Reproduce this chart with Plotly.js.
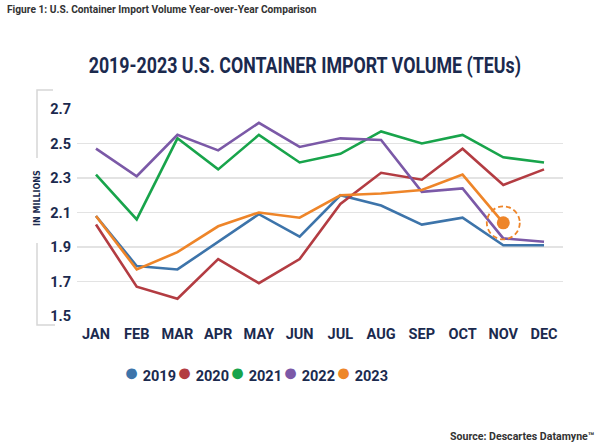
<!DOCTYPE html>
<html>
<head>
<meta charset="utf-8">
<script src="https://cdn.plot.ly/plotly-3.0.1.min.js"></script>
<style>html,body{margin:0;padding:0;background:#fff}#chart{width:600px;height:448px}</style>
</head>
<body>
<div id="chart"></div>
<script>
// ---- data ----
const months = ['JAN','FEB','MAR','APR','MAY','JUN','JUL','AUG','SEP','OCT','NOV','DEC'];
const years = ['2019','2020','2021','2022','2023'];
const v2019 = [2.08,1.79,1.77,1.93,2.09,1.96,2.20,2.14,2.03,2.07,1.91,1.91];
const v2020 = [2.03,1.67,1.60,1.83,1.69,1.83,2.15,2.33,2.29,2.47,2.26,2.35];
const v2021 = [2.32,2.06,2.53,2.35,2.55,2.39,2.44,2.57,2.50,2.55,2.42,2.39];
const v2022 = [2.47,2.31,2.55,2.46,2.62,2.48,2.53,2.52,2.22,2.24,1.95,1.93];
const v2023 = [2.08,1.77,1.87,2.02,2.10,2.07,2.20,2.21,2.23,2.32,2.04,null];
const yTicks = [1.5,1.7,1.9,2.1,2.3,2.5,2.7];
const yTickText = yTicks.map(v => v.toFixed(1));

// ---- style ----
const series = [v2019,v2020,v2021,v2022,v2023];
const colors = ['#3d74aa','#b33c42','#18a44b','#7b59a7','#ee8529'];
const NAVY = '#1b2a4e';
const FONT = 'Roboto,"Liberation Sans",sans-serif';

const W = 600, H = 448;
const M = {l:77, r:37, t:109, b:132};
const pw = W - M.l - M.r, ph = H - M.t - M.b;
const px = x => (x - M.l) / pw;
const py = y => (H - M.b - y) / ph;

const traces = [];
series.forEach((v, i) => traces.push({
  type:'scatter', mode:'lines', x:months, y:v, name:years[i],
  line:{color:colors[i], width:2.6}, showlegend:false, cliponaxis:false, hoverinfo:'skip'
}));

// highlighted latest 2023 point
let hiIdx = -1;
v2023.forEach((v, i) => { if (v !== null) hiIdx = i; });
traces.push({
  type:'scatter', mode:'markers', x:[months[hiIdx]], y:[v2023[hiIdx]],
  marker:{color:colors[4], size:13}, showlegend:false, cliponaxis:false, hoverinfo:'skip'
});

// legend entries (coloured dot + year)
years.forEach((y, i) => {
  const t = {
    type:'scatter', mode:'markers', x:[null], y:[null],
    name:'<span style="color:' + colors[i] + ';font-size:25px">●</span> ' + y,
    marker:{color:'rgba(0,0,0,0)', size:0.1, line:{width:0}}, showlegend:true, hoverinfo:'skip'
  };
  if (i === years.length - 1) t.legendwidth = 60;
  traces.push(t);
});

const tickFont = {family:FONT, size:14.5, color:NAVY, weight:'bold'};

const layout = {
  width:W, height:H, margin:M,
  paper_bgcolor:'#ffffff', plot_bgcolor:'#ffffff',
  title:{
    text:'2019-2023 U.S. CONTAINER IMPORT VOLUME (TEUs)',
    font:{family:FONT, size:22, color:NAVY, weight:'bold'},
    x:0.508, xanchor:'center', xref:'container',
    y:1 - 65/H, yanchor:'middle', yref:'container'
  },
  xaxis:{
    type:'category', range:[-0.466, 11.466],
    showgrid:false, zeroline:false, showline:false, ticks:'',
    tickfont:tickFont, ticklabelstandoff:7, fixedrange:true
  },
  yaxis:{
    range:[1.5, 2.7], tickvals:yTicks, ticktext:yTickText,
    showgrid:true, gridcolor:'#e3e3e3', gridwidth:1.5,
    zeroline:false, showline:false, ticks:'',
    tickfont:tickFont, ticklabelstandoff:5, fixedrange:true
  },
  legend:{
    orientation:'h', xref:'paper', yref:'paper',
    x:px(84), xanchor:'left', y:py(375), yanchor:'middle',
    font:{family:FONT, size:14.5, color:NAVY, weight:'bold'},
    entrywidth:8, entrywidthmode:'pixels', bgcolor:'#ffffff', borderwidth:0
  },
  shapes:[
    {type:'path', xref:'paper', yref:'paper', layer:'below',
     path:'M' + px(53) + ',' + py(90) + ' L' + px(37) + ',' + py(90) + ' L' + px(37) + ',' + py(158) +
          ' M' + px(37) + ',' + py(243) + ' L' + px(37) + ',' + py(325) + ' L' + px(55) + ',' + py(325),
     line:{color:'#d6d6d6', width:1.5}},
    {type:'circle', xref:'x', yref:'y', xsizemode:'pixel', ysizemode:'pixel',
     xanchor:months[hiIdx], yanchor:v2023[hiIdx], x0:-16.5, x1:16.5, y0:-16.5, y1:16.5,
     line:{color:colors[4], width:1.8, dash:'5px,3px'}}
  ],
  annotations:[
    {text:'IN MILLIONS', xref:'paper', yref:'paper', x:px(37), y:py(198),
     xanchor:'center', yanchor:'middle', textangle:-90, showarrow:false,
     font:{family:'"DejaVu Sans",sans-serif', size:8, color:NAVY, weight:'bold'}},
    {text:'Figure 1: U.S. Container Import Volume Year-over-Year Comparison',
     xref:'paper', yref:'paper', x:px(5), y:py(9), xanchor:'left', yanchor:'middle', showarrow:false,
     font:{family:FONT, size:10.2, color:'#333333', weight:'bold'}},
    {text:'Source: Descartes Datamyne™',
     xref:'paper', yref:'paper', x:px(597), y:py(436), xanchor:'right', yanchor:'middle', showarrow:false,
     font:{family:FONT, size:10.6, color:'#333333', weight:'bold'}}
  ],
  showlegend:true
};

Plotly.newPlot('chart', traces, layout, {displayModeBar:false, staticPlot:true}).then(gd => {
  // condense the title horizontally (the original uses a condensed face)
  const t = gd.querySelector('.gtitle');
  if (t) {
    const cx = parseFloat(t.getAttribute('x')) || 0;
    const s = 0.81;
    t.setAttribute('transform', 'translate(' + (cx * (1 - s)) + ',0) scale(' + s + ',1)');
  }
  // the legend dots are part of the entry text; drop the unused symbol slots
  gd.querySelectorAll('.legend .legendsymbols, .legend .scrollbar').forEach(e => e.remove());
  // hide any small leftover glyph sitting in the empty slot left of the first legend entry
  const host = gd.getBoundingClientRect();
  gd.querySelectorAll('svg path, svg text, svg line, svg rect, svg tspan').forEach(e => {
    const b = e.getBoundingClientRect();
    const x0 = b.left - host.left, y0 = b.top - host.top;
    if (b.width > 0 && b.width < 16 && b.height < 9 && x0 >= 92 && x0 + b.width <= 120 && y0 >= 366 && y0 + b.height <= 386) {
      e.style.display = 'none';
    }
  });
});
</script>
</body>
</html>
